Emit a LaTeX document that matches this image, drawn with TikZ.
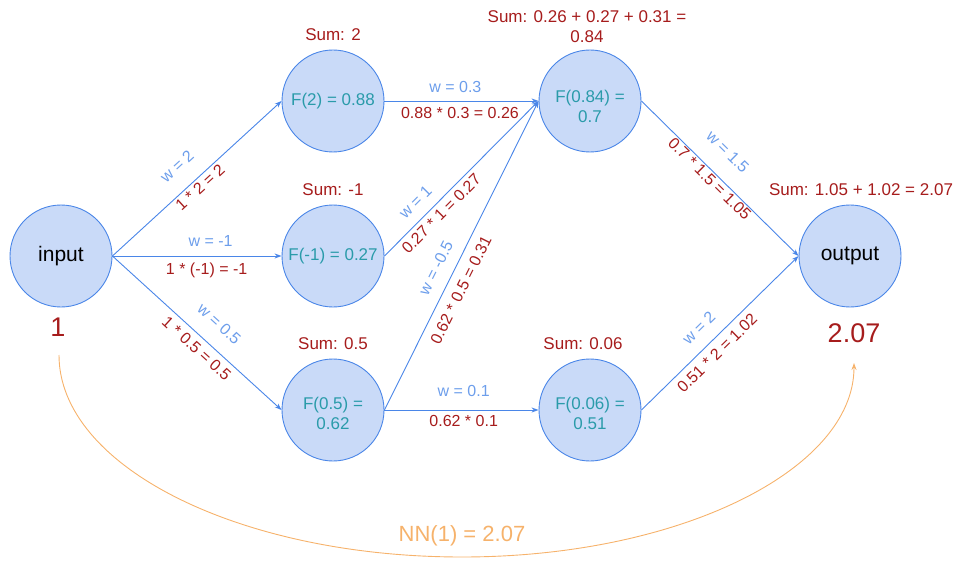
\documentclass[tikz,border=0pt]{standalone}
\usepackage{fontspec}
\setmainfont{Liberation Sans}
\usetikzlibrary{arrows.meta}
\definecolor{nfill}{HTML}{C9DAF8}
\definecolor{nline}{HTML}{4A86E8}
\definecolor{wblue}{HTML}{6D9EEB}
\definecolor{fteal}{HTML}{2A9BAA}
\definecolor{dred}{HTML}{A61C1C}
\definecolor{nnorange}{HTML}{F6B26B}
\begin{document}
\begin{tikzpicture}[x=1pt,y=-1pt,
  neuron/.style={circle, draw=nline, fill=nfill, line width=0.9pt, minimum size=102pt,
    inner sep=0pt, align=center, text=fteal, font=\fontsize{17}{20}\selectfont},
  endpoint/.style={neuron, text=black, font=\fontsize{21}{25}\selectfont},
  conn/.style={draw=nline, line width=0.9pt, -{Stealth[length=7pt,width=5pt]}},
  wl/.style={sloped, inner sep=0pt, text=wblue, font=\fontsize{16}{19}\selectfont},
  pl/.style={sloped, inner sep=0pt, text=dred, font=\fontsize{16}{19}\selectfont},
  sumlab/.style={inner sep=0pt, align=center, text=dred, font=\fontsize{17}{20}\selectfont},
  bigval/.style={inner sep=0pt, text=dred, font=\fontsize{27}{32}\selectfont},
  nnlab/.style={inner sep=0pt, text=nnorange, font=\fontsize{22}{26}\selectfont},
  nncurve/.style={draw=nnorange, line width=0.9pt, -{Stealth[length=7pt,width=5pt]}}
]
\useasboundingbox (0,0) rectangle (957,561);

% neurons
\node[endpoint] (input) at (61,256) {input};
\node[neuron] (f2) at (333,101) {F(2) = 0.88};
\node[neuron] (fm1) at (333,256) {F(-1) = 0.27};
\node[neuron] (f05) at (333,410) {\rule{0pt}{20pt}F(0.5) =\\0.62};
\node[neuron] (f084) at (590,101) {\rule{0pt}{24pt}F(0.84) =\\0.7};
\node[neuron] (f006) at (590,410) {\rule{0pt}{20pt}F(0.06) =\\0.51};
\node[endpoint] (output) at (850,256) {output};

% sums and values
\node[sumlab] (s2) at (333,35) {Sum: 2};
\node[sumlab] (sm1) at (333,190) {Sum: -1};
\node[sumlab] (s05) at (333,344) {Sum: 0.5};
\node[sumlab] (s006) at (583,344) {Sum: 0.06};
\node[sumlab] (s084) at (587,27) {Sum: 0.26 + 0.27 + 0.31 =\\0.84};
\node[sumlab] (sout) at (861,190) {Sum: 1.05 + 1.02 = 2.07};
\node[bigval] (vin) at (58,327) {1};
\node[bigval] (vout) at (854,333) {2.07};

% connections
\draw[conn] (input.east) -- (f2.west)
  node[wl, pos=0.471, yshift=22.4pt] (lw1) {w = 2}
  node[pl, pos=0.483, yshift=-8.6pt] (lp1) {1 * 2 = 2};
\draw[conn] (input.east) -- (fm1.west)
  node[wl, pos=0.58, yshift=15pt] (lw2) {w = -1}
  node[pl, pos=0.557, yshift=-14pt] (lp2) {1 * (-1) = -1};
\draw[conn] (input.east) -- (f05.west)
  node[wl, pos=0.545, yshift=21.8pt] (lw3) {w = 0.5}
  node[pl, pos=0.544, yshift=-11.7pt] (lp3) {1 * 0.5 = 0.5};
\draw[conn] (f2.east) -- (f084.west)
  node[wl, pos=0.46, yshift=14pt] (lw4) {w = 0.3}
  node[pl, pos=0.49, yshift=-12pt] (lp4) {0.88 * 0.3 = 0.26};
\draw[conn] (fm1.east) -- (f084.west)
  node[wl, pos=0.275, yshift=16.3pt] (lw5) {w = 1}
  node[pl, pos=0.32, yshift=-10.5pt] (lp5) {0.27 * 1 = 0.27};
\draw[conn] (f05.east) -- (f084.west)
  node[wl, pos=0.434, yshift=17.3pt] (lw6) {w = -0.5}
  node[pl, pos=0.41, yshift=-14.8pt] (lp6) {0.62 * 0.5 = 0.31};
\draw[conn] (f05.east) -- (f006.west)
  node[wl, pos=0.514, yshift=19pt] (lw7) {w = 0.1}
  node[pl, pos=0.514, yshift=-11pt] (lp7) {0.62 * 0.1};
\draw[conn] (f084.east) -- (output.west)
  node[wl, pos=0.44, yshift=24.3pt] (lw8) {w = 1.5}
  node[pl, pos=0.468, yshift=-7.5pt] (lp8) {0.7 * 1.5 = 1.05};
\draw[conn] (f006.east) -- (output.west)
  node[wl, pos=0.447, yshift=18.4pt] (lw9) {w = 2}
  node[pl, pos=0.426, yshift=-12.3pt] (lp9) {0.51 * 2 = 1.02};

% whole network
\coordinate (nna) at (59,355);
\coordinate (nnb) at (462,557);
\coordinate (nnc) at (854,363);
\draw[nncurve] (nna) .. controls (59,466.6) and (239.6,557) .. (nnb)
  .. controls (678.7,557) and (854,470.1) .. (nnc);
\node[nnlab] (nn) at (462,536) {NN(1) = 2.07};
\end{tikzpicture}
\end{document}
